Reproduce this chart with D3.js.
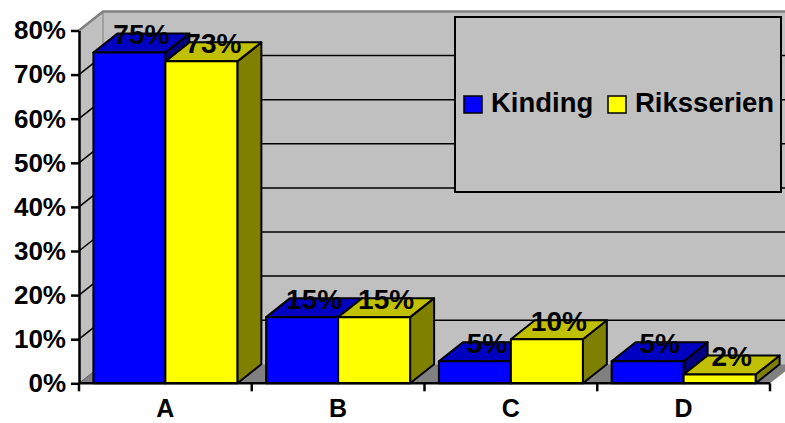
<!DOCTYPE html>
<html>
<head>
<meta charset="utf-8">
<script src="https://cdn.jsdelivr.net/npm/d3@7"></script>
<style>
  html, body { margin: 0; padding: 0; background: #fff; }
  svg { display: block; font-family: "Liberation Sans", Arial, sans-serif; font-weight: bold; }
</style>
</head>
<body>
<svg id="chart" width="785" height="423"></svg>
<script>
// Chart data
const categories = ["A", "B", "C", "D"];
const seriesNames = ["Kinding", "Riksserien"];
const kinding = [75, 15, 5, 5];
const riksserien = [73, 15, 10, 2];
const yTicks = [0, 10, 20, 30, 40, 50, 60, 70, 80];

const seriesValues = [kinding, riksserien];
const faceColors = [
  { front: "#0000ff", top: "#0000c0", side: "#000080" },
  { front: "#ffff00", top: "#c0c000", side: "#808000" }
];

// Layout of the 3D box
const x0 = 79, x1 = 770, yBase = 383.3, yTop = 30.5;
const dx = 24, dy = 19;               // depth offset of the back wall

const svg = d3.select("#chart");

const x = d3.scaleBand().domain(categories).range([x0, x1]).paddingInner(0).paddingOuter(0);
const xs = d3.scaleBand().domain(seriesNames).range([0, x.bandwidth()]).paddingInner(0).paddingOuter(0.2);
const y = d3.scaleLinear().domain([0, 80]).range([yBase, yTop]);

const pts = a => a.map(p => p.join(",")).join(" ");

// Walls
const walls = svg.append("g");
// left side wall
walls.append("polygon")
  .attr("points", pts([[x0, y(80)], [x0 + dx, y(80) - dy], [x0 + dx, y(0) - dy], [x0, y(0)]]))
  .attr("fill", "#c0c0c0");
// back wall
walls.append("polygon")
  .attr("points", pts([[x0 + dx, y(80) - dy], [x1 + dx, y(80) - dy], [x1 + dx, y(0) - dy], [x0 + dx, y(0) - dy]]))
  .attr("fill", "#c0c0c0");
// floor
walls.append("polygon")
  .attr("points", pts([[x0, y(0)], [x1, y(0)], [x1 + dx, y(0) - dy], [x0 + dx, y(0) - dy]]))
  .attr("fill", "#808080");

// Gridlines on back and side walls
const grid = svg.append("g").attr("stroke", "#000").attr("stroke-width", 1.5).attr("fill", "none");
yTicks.filter(v => v > 0 && v < 80).forEach(v => {
  grid.append("line")
    .attr("x1", x0 + dx).attr("x2", x1 + dx)
    .attr("y1", y(v) - dy).attr("y2", y(v) - dy);
  grid.append("line")
    .attr("x1", x0).attr("x2", x0 + dx)
    .attr("y1", y(v)).attr("y2", y(v) - dy);
});

// Wall outline (top and back-left edges)
svg.append("polyline")
  .attr("points", pts([[x0, y(80)], [x0 + dx, y(80) - dy], [x1 + dx, y(80) - dy]]))
  .attr("fill", "none").attr("stroke", "#808080").attr("stroke-width", 2.5);
svg.append("line")
  .attr("x1", x0 + dx).attr("x2", x0 + dx)
  .attr("y1", y(80) - dy).attr("y2", y(0) - dy)
  .attr("stroke", "#808080").attr("stroke-width", 1);
svg.append("line")
  .attr("x1", x0).attr("x2", x0 + dx)
  .attr("y1", y(0)).attr("y2", y(0) - dy)
  .attr("stroke", "#606060").attr("stroke-width", 1);

// Legend
const legend = svg.append("g");
legend.append("rect")
  .attr("x", 455).attr("y", 17).attr("width", 326).attr("height", 175)
  .attr("fill", "#c0c0c0").attr("stroke", "#000").attr("stroke-width", 2);
const legendItems = [
  { name: seriesNames[0], color: faceColors[0].front, x: 464 },
  { name: seriesNames[1], color: faceColors[1].front, x: 608 }
];
legendItems.forEach(it => {
  legend.append("rect")
    .attr("x", it.x).attr("y", 96).attr("width", 18).attr("height", 17)
    .attr("fill", it.color).attr("stroke", "#000").attr("stroke-width", 1.5);
  legend.append("text")
    .attr("x", it.x + 27).attr("y", 112)
    .attr("font-size", 27.5)
    .attr("fill", "#000")
    .text(it.name);
});

// Bars
const bars = svg.append("g").attr("stroke", "#000").attr("stroke-width", 2).attr("stroke-linejoin", "round");
categories.forEach((c, i) => {
  seriesNames.forEach((s, j) => {
    const v = seriesValues[j][i];
    const bx = x(c) + xs(s), bw = xs.bandwidth();
    const yt = y(v), yb = y(0);
    const col = faceColors[j];
    bars.append("polygon")
      .attr("points", pts([[bx + bw, yt], [bx + bw + dx, yt - dy], [bx + bw + dx, yb - dy], [bx + bw, yb]]))
      .attr("fill", col.side);
    bars.append("polygon")
      .attr("points", pts([[bx, yt], [bx + dx, yt - dy], [bx + bw + dx, yt - dy], [bx + bw, yt]]))
      .attr("fill", col.top);
    bars.append("rect")
      .attr("x", bx).attr("y", yt).attr("width", bw).attr("height", yb - yt)
      .attr("fill", col.front);
  });
});

// Data labels
const labels = svg.append("g").attr("text-anchor", "middle").attr("font-size", 28).attr("fill", "#000");
categories.forEach((c, i) => {
  seriesNames.forEach((s, j) => {
    const v = seriesValues[j][i];
    labels.append("text")
      .attr("x", x(c) + xs(s) + xs.bandwidth() / 2 + dx / 2)
      .attr("y", y(v) - dy / 2 + 1)
      .text(v + "%");
  });
});

// Y axis
const yAxis = d3.axisLeft(y).tickValues(yTicks).tickFormat(d => d + "%").tickSize(8).tickSizeOuter(0).tickPadding(5);
const gy = svg.append("g").attr("transform", `translate(${x0},0)`).call(yAxis);
gy.select(".domain").attr("stroke", "#000").attr("stroke-width", 2.5);
gy.selectAll(".tick line").attr("stroke", "#000").attr("stroke-width", 2.5);
gy.selectAll(".tick text")
  .attr("font-size", 26).attr("font-weight", "bold").attr("font-family", "Liberation Sans, Arial, sans-serif")
  .attr("fill", "#000");

// X axis line, boundary ticks and category labels
svg.append("line")
  .attr("x1", x0).attr("x2", x1).attr("y1", y(0)).attr("y2", y(0))
  .attr("stroke", "#000").attr("stroke-width", 2.5);
const boundaries = categories.map(c => x(c)).concat([x1]);
svg.append("g").selectAll("line").data(boundaries).join("line")
  .attr("x1", d => d).attr("x2", d => d)
  .attr("y1", y(0)).attr("y2", y(0) + 8)
  .attr("stroke", "#000").attr("stroke-width", 2.5);
svg.append("g").selectAll("text").data(categories).join("text")
  .attr("x", d => x(d) + x.bandwidth() / 2)
  .attr("y", 417)
  .attr("text-anchor", "middle")
  .attr("font-size", 25)
  .attr("fill", "#000")
  .text(d => d);
</script>
</body>
</html>
